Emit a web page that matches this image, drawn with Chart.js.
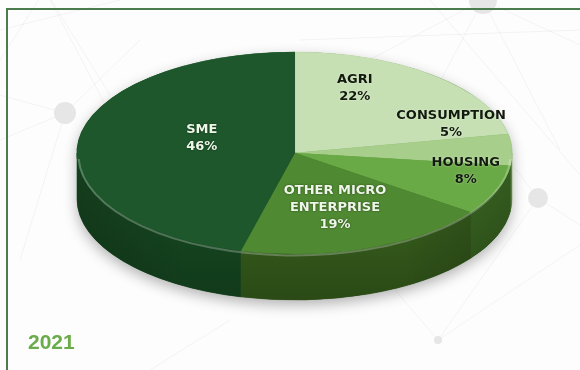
<!DOCTYPE html>
<html>
<head>
<meta charset="utf-8">
<script src="https://cdn.jsdelivr.net/npm/chart.js@4.4.1/dist/chart.umd.min.js"></script>
<style>
  html, body { margin: 0; padding: 0; background: #fff; overflow: hidden; }
  canvas { display: block; }
</style>
</head>
<body>
<canvas id="portfolioPie" width="580" height="370"></canvas>
<script>
// Portfolio split by segment
const categories = ['AGRI', 'CONSUMPTION', 'HOUSING', ['OTHER MICRO', 'ENTERPRISE'], 'SME'];
const shares = [22, 5, 8, 19, 46];
const yearText = '2021';

// slice styling
const topColors = ['#c6e0b4', '#a7cf8b', '#6aaa46', '#4f8932', '#1d572b'];
const sideColors = [
  ['#8fb878', '#6f9a5a'],
  ['#7fae62', '#5f8c45'],
  ['#467a2a', '#30561b'],
  ['#3d6a22', '#2b4a16'],
  ['#1a4e25', '#113a1a']
];
const labelColors = ['#121a0e', '#121a0e', '#121a0e', '#eef6e8', '#eef6e8'];
const labelNudge = [[-16, -22], [37, -27], [60, -2], [0, 2], [26, -8]];

// ellipse the flat pie is mapped onto
const PIE = { cx: 294.5, cy: 153, rx: 217.5, ry: 101, depth: 46, labelRadius: 0.55 };

function pieArcs(chart) {
  return chart.getDatasetMeta(0).data;
}

const backdrop = {
  id: 'backdrop',
  beforeDraw(chart) {
    const ctx = chart.ctx;
    ctx.save();
    ctx.fillStyle = '#fdfdfd';
    ctx.fillRect(0, 0, chart.width, chart.height);

    // faint network pattern
    const lines = [
      [45, -10, 0, 60], [45, -10, 110, 95], [45, -10, 150, 190], [0, 95, 65, 113], [0, 140, 65, 113],
      [65, 113, 140, 40], [65, 113, 20, 260], [120, 0, 0, 30], [483, 0, 350, 70], [483, 0, 420, 120],
      [483, 0, 580, 45], [483, 0, 560, 150], [300, 40, 580, 30], [430, 0, 580, 175], [538, 198, 438, 340],
      [580, 245, 438, 340], [538, 198, 580, 225], [438, 340, 395, 290], [538, 198, 470, 110], [150, 370, 230, 320]
    ];
    ctx.strokeStyle = 'rgba(0,0,0,0.045)';
    ctx.lineWidth = 1;
    lines.forEach(([x1, y1, x2, y2]) => {
      ctx.beginPath();
      ctx.moveTo(x1, y1);
      ctx.lineTo(x2, y2);
      ctx.stroke();
    });
    ctx.fillStyle = '#e6e6e6';
    [[65, 113, 11], [483, 0, 14], [538, 198, 10], [438, 340, 4]].forEach(([x, y, r]) => {
      ctx.beginPath();
      ctx.arc(x, y, r, 0, Math.PI * 2);
      ctx.fill();
    });

    // frame
    ctx.strokeStyle = '#4b7c4e';
    ctx.lineWidth = 2;
    ctx.beginPath();
    ctx.moveTo(7, chart.height + 2);
    ctx.lineTo(7, 9);
    ctx.lineTo(chart.width + 2, 9);
    ctx.stroke();

    ctx.fillStyle = '#6aab4a';
    ctx.font = 'bold 21px "Liberation Sans", Arial, sans-serif';
    ctx.textBaseline = 'alphabetic';
    ctx.fillText(yearText, 28, 349);
    ctx.restore();
  }
};

const pie3d = {
  id: 'pie3d',
  beforeDatasetsDraw(chart) {
    const ctx = chart.ctx;
    const arcs = pieArcs(chart);
    if (!arcs.length) return;
    const { cx, cy, rx, ry, depth } = PIE;

    // soft shadow under the body
    ctx.save();
    ctx.shadowColor = 'rgba(0,0,0,0.3)';
    ctx.shadowBlur = 14;
    ctx.shadowOffsetY = 5;
    ctx.fillStyle = '#1a4a22';
    ctx.beginPath();
    ctx.ellipse(cx, cy + depth, rx, ry, 0, 0, Math.PI);
    ctx.ellipse(cx, cy, rx, ry, 0, Math.PI, Math.PI * 2);
    ctx.closePath();
    ctx.fill();
    ctx.restore();

    // side walls for the front half
    arcs.forEach((arc, i) => {
      const a1 = Math.max(arc.startAngle, 0);
      const a2 = Math.min(arc.endAngle, Math.PI);
      if (a2 <= a1) return;
      const g = ctx.createLinearGradient(0, cy, 0, cy + ry + depth);
      g.addColorStop(0, sideColors[i][0]);
      g.addColorStop(1, sideColors[i][1]);
      ctx.beginPath();
      ctx.ellipse(cx, cy, rx, ry, 0, a1, a2);
      ctx.ellipse(cx, cy + depth, rx, ry, 0, a2, a1, true);
      ctx.closePath();
      ctx.fillStyle = g;
      ctx.fill();
      ctx.strokeStyle = g;
      ctx.lineWidth = 0.6;
      ctx.stroke();
    });

    // darken the ends of the wall a little
    const shade = ctx.createLinearGradient(cx - rx, 0, cx + rx, 0);
    shade.addColorStop(0, 'rgba(0,0,0,0.18)');
    shade.addColorStop(0.25, 'rgba(0,0,0,0)');
    shade.addColorStop(0.75, 'rgba(0,0,0,0)');
    shade.addColorStop(1, 'rgba(0,0,0,0.22)');
    ctx.beginPath();
    ctx.ellipse(cx, cy, rx, ry, 0, 0, Math.PI);
    ctx.ellipse(cx, cy + depth, rx, ry, 0, Math.PI, 0, true);
    ctx.closePath();
    ctx.fillStyle = shade;
    ctx.fill();

    // map the library's circle onto the ellipse
    const ref = arcs[0];
    ctx.save();
    ctx.translate(cx, cy);
    ctx.scale(rx / ref.outerRadius, ry / ref.outerRadius);
    ctx.translate(-ref.x, -ref.y);
  },
  afterDatasetsDraw(chart) {
    const ctx = chart.ctx;
    const arcs = pieArcs(chart);
    if (!arcs.length) return;
    ctx.restore();
    const { cx, cy, rx, ry, labelRadius } = PIE;

    // bevel highlight along the front rim
    ctx.save();
    ctx.strokeStyle = 'rgba(255,255,255,0.26)';
    ctx.lineWidth = 2;
    ctx.beginPath();
    ctx.ellipse(cx, cy + 2, rx - 1.5, ry - 0.5, 0, 0.04, Math.PI - 0.04);
    ctx.stroke();
    ctx.restore();

    // slice labels
    ctx.save();
    ctx.font = 'bold 13px "DejaVu Sans", Verdana, sans-serif';
    ctx.textAlign = 'center';
    ctx.textBaseline = 'middle';
    arcs.forEach((arc, i) => {
      const mid = (arc.startAngle + arc.endAngle) / 2;
      const x = cx + labelRadius * rx * Math.cos(mid) + labelNudge[i][0];
      const y = cy + labelRadius * ry * Math.sin(mid) + labelNudge[i][1];
      const name = chart.data.labels[i];
      const rows = (Array.isArray(name) ? name : [name]).concat(shares[i] + '%');
      const lh = 17;
      const light = labelColors[i] !== '#121a0e';
      ctx.shadowColor = light ? 'rgba(0,0,0,0.55)' : 'rgba(255,255,255,0.5)';
      ctx.shadowBlur = 2;
      ctx.fillStyle = labelColors[i];
      rows.forEach((row, k) => {
        ctx.fillText(row, x, y + (k - (rows.length - 1) / 2) * lh);
      });
    });
    ctx.restore();
  }
};

new Chart(document.getElementById('portfolioPie').getContext('2d'), {
  type: 'pie',
  data: {
    labels: categories,
    datasets: [{
      data: shares,
      backgroundColor: topColors,
      borderColor: topColors,
      borderWidth: 0.5,
      hoverOffset: 0,
      clip: false
    }]
  },
  options: {
    responsive: false,
    animation: false,
    layout: { padding: { top: 52, bottom: 116, left: 193, right: 185 } },
    plugins: {
      legend: { display: false },
      tooltip: { enabled: false }
    }
  },
  plugins: [backdrop, pie3d]
});
</script>
</body>
</html>
